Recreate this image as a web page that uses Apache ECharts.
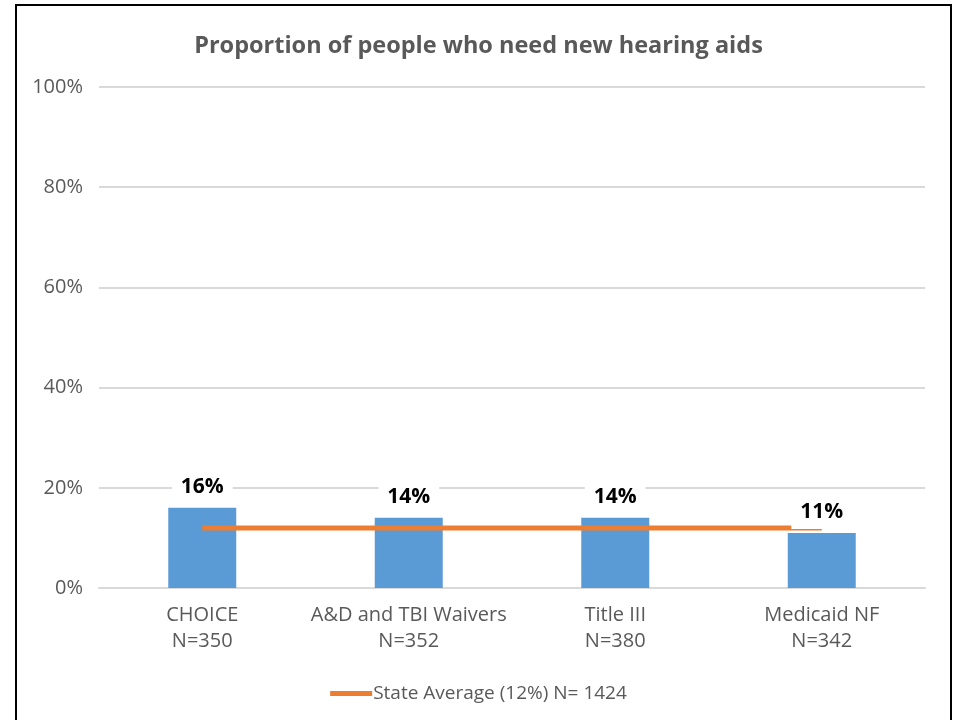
<!DOCTYPE html>
<html>
<head>
<meta charset="utf-8">
<script src="https://cdn.jsdelivr.net/npm/echarts@6/dist/echarts.min.js"></script>
<style>
  html, body { margin: 0; padding: 0; background: #fff; }
  #chart { width: 957px; height: 720px; }
</style>
</head>
<body>
<div id="chart"></div>
<script>
// Program categories (two-line axis labels: name and sample size)
const programs = ['CHOICE', 'A&D and TBI Waivers', 'Title III', 'Medicaid NF'];
const sampleSizes = ['N=350', 'N=352', 'N=380', 'N=342'];
// Share of people needing new hearing aids, percent
const needPct = [16, 14, 14, 11];
// Statewide average, percent, repeated across the programs
const stateAvgPct = [12, 12, 12, 12];
const stateAvgName = 'State Average (12%) N= 1424';
const yTicks = [0, 20, 40, 60, 80, 100];

const FONT = '"Open Sans", "Noto Sans", sans-serif';
const GREY = '#595959';

const chart = echarts.init(document.getElementById('chart'), null, { renderer: 'canvas' });

const categories = programs.map((p, i) => p + '\n' + sampleSizes[i]);

chart.setOption({
  backgroundColor: '#ffffff',
  animation: false,
  title: {
    text: 'Proportion of people who need new hearing aids',
    left: 'center',
    top: 29,
    textStyle: { fontFamily: FONT, fontSize: 23.5, fontWeight: 'bold', color: GREY }
  },
  legend: {
    data: [{ name: stateAvgName, icon: 'rect' }],
    left: 'center',
    top: 679,
    itemWidth: 42,
    itemHeight: 5,
    itemGap: 10,
    textStyle: { fontFamily: FONT, fontSize: 19, color: GREY, padding: [0, 0, 0, -4] }
  },
  grid: { left: 99, right: 32, top: 87, bottom: 132, containLabel: false },
  xAxis: {
    type: 'category',
    data: categories,
    axisTick: { show: false },
    axisLine: { show: true, lineStyle: { color: '#d9d9d9', width: 2 } },
    axisLabel: {
      fontFamily: FONT, fontSize: 20, color: GREY, lineHeight: 26, margin: 14,
      interval: 0
    }
  },
  yAxis: {
    type: 'value',
    min: yTicks[0],
    max: yTicks[yTicks.length - 1],
    interval: 20,
    axisLine: { show: false },
    axisTick: { show: false },
    splitLine: { lineStyle: { color: '#d9d9d9', width: 2 } },
    axisLabel: {
      fontFamily: FONT, fontSize: 20, color: GREY, margin: 16,
      formatter: v => v + '%'
    }
  },
  series: [
    {
      name: 'Need',
      type: 'bar',
      data: needPct,
      barWidth: 68,
      z: 2,
      itemStyle: { color: '#5b9bd5' }
    },
    {
      name: stateAvgName,
      type: 'line',
      data: stateAvgPct,
      symbol: 'none',
      z: 3,
      lineStyle: { color: '#ed7d31', width: 5 },
      itemStyle: { color: '#ed7d31' }
    },
    {
      // value labels drawn above the state-average line
      name: 'NeedLabels',
      type: 'bar',
      data: needPct,
      barWidth: 68,
      barGap: '-100%',
      z: 4,
      silent: true,
      itemStyle: { color: 'rgba(0,0,0,0)' },
      label: {
        show: true,
        position: 'top',
        distance: 4,
        formatter: p => p.value + '%',
        fontFamily: FONT,
        fontSize: 21,
        fontWeight: 'bold',
        color: '#000000',
        backgroundColor: '#ffffff',
        padding: [8, 9, 6, 9]
      }
    }
  ],
  graphic: [
    {
      type: 'rect',
      silent: true,
      shape: { x: 16, y: 5, width: 935, height: 740 },
      style: { fill: 'none', stroke: '#000000', lineWidth: 2 },
      z: 100
    }
  ]
});
</script>
</body>
</html>
